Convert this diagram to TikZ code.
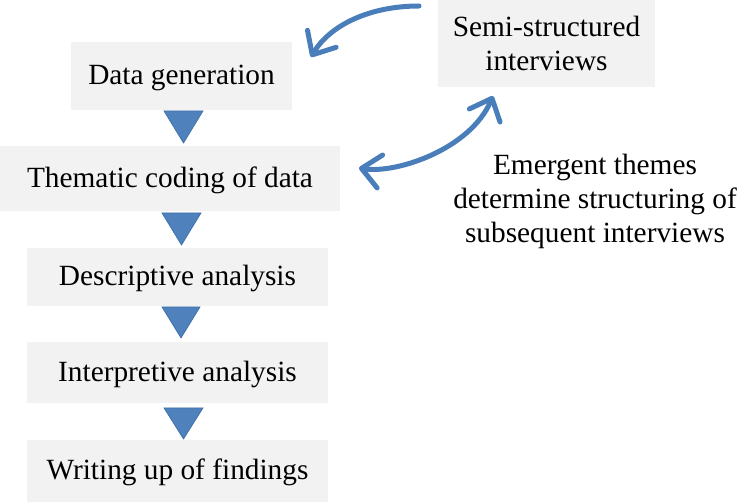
\documentclass[tikz,border=0pt]{standalone}
\usepackage{fontspec}
\setmainfont{Liberation Serif}
\usetikzlibrary{arrows.meta}
\definecolor{boxgray}{HTML}{F2F2F2}
\definecolor{arrowblue}{HTML}{4A7EBB}
\definecolor{trifill}{HTML}{4F81BD}
\definecolor{triline}{HTML}{3D6FA8}
\tikzset{
  boxbase/.style={fill=boxgray, inner sep=0pt, align=center,
    font=\fontsize{22}{25.5}\selectfont},
  stagebox/.style={boxbase, text height=15.4pt, text depth=2.2pt},
  plaintext/.style={inner sep=0pt, align=center,
    font=\fontsize{22}{25.5}\selectfont},
  downtri/.style={fill=trifill, draw=triline, line width=0.5pt},
  loop arrow/.style={draw=arrowblue, line width=3.75pt, line cap=round,
    -{Straight Barb[length=14pt, width=25pt, round]}},
}
\begin{document}
\begin{tikzpicture}[x=0.75pt, y=-0.75pt]
  \useasboundingbox (0,0) rectangle (740,502);
  % stages
  \node[stagebox, minimum width=165.75pt, minimum height=51pt] (gen) at (181.5,76) {Data generation};
  \node[stagebox, minimum width=255pt, minimum height=48.75pt] (theme) at (170,178.5) {Thematic coding of data};
  \node[stagebox, minimum width=225.75pt, minimum height=43.5pt] (desc) at (177.5,277) {Descriptive analysis};
  \node[stagebox, minimum width=225.75pt, minimum height=45.75pt] (interp) at (177.5,372.5) {Interpretive analysis};
  \node[stagebox, minimum width=225.75pt, minimum height=46.5pt] (write) at (177.5,471) {Writing up of findings};
  \node[boxbase, minimum width=162.75pt, minimum height=65.25pt] (semi) at (546.5,43.5) {Semi-structured\\interviews};
  \node[plaintext] (emerg) at (595,201) {Emergent themes\\determine structuring of\\subsequent interviews};
  % triangles between stages
  \fill[downtri] (164,111) -- (203,111) -- (183.5,143) -- cycle;
  \fill[downtri] (162,213) -- (201,213) -- (181.5,245) -- cycle;
  \fill[downtri] (162,307) -- (200,307) -- (181,338) -- cycle;
  \fill[downtri] (164,408) -- (203,408) -- (183.5,439) -- cycle;
  % loop arrows
  \coordinate (a1) at (419,6);
  \coordinate (a2) at (311,57);
  \coordinate (b1) at (359,168);
  \coordinate (b2) at (493,96);
  \draw[loop arrow] (a1) .. controls (370,6) and (330,25) .. (a2);
  \draw[loop arrow, {Straight Barb[length=14pt, width=25pt, round]}-{Straight Barb[length=14pt, width=25pt, round]}]
    (b1) .. controls (395,174) and (470,150) .. (b2);
\end{tikzpicture}
\end{document}
